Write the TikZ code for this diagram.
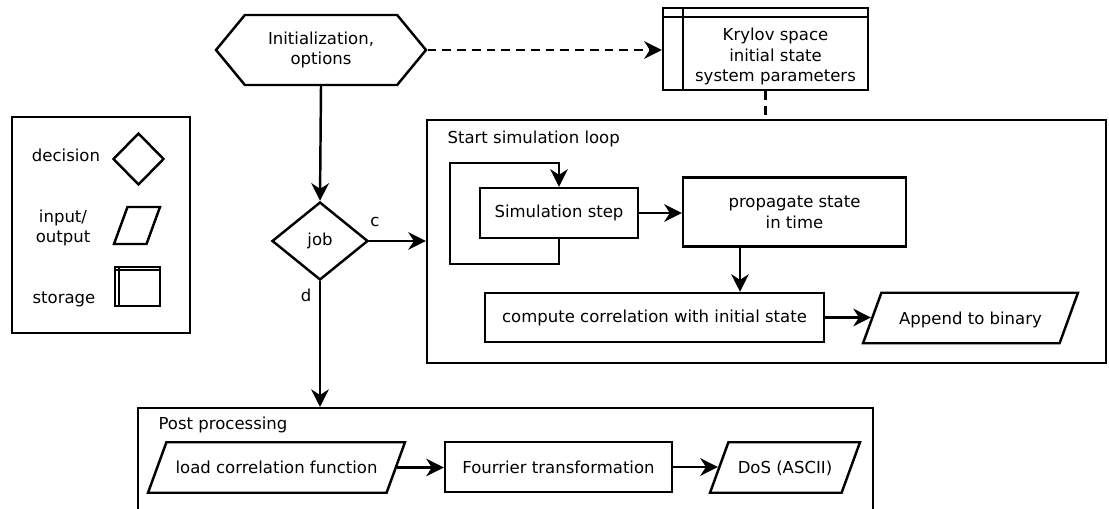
\documentclass[tikz,border=0pt]{standalone}
\usepackage{fontspec}
\setmainfont{DejaVu Sans}
\usetikzlibrary{arrows.meta,shapes.geometric,shapes.symbols}

\begin{document}
\begin{tikzpicture}[
  x=0.02cm, y=-0.02cm,
  line width=1.4pt,
  font=\fontsize{9.4}{11.8}\selectfont,
  procbox/.style={rectangle, draw, align=center, inner sep=0pt},
  groupbox/.style={rectangle, draw, inner sep=0pt},
  startbox/.style={signal, signal to=west and east, signal pointer angle=101, draw, align=center, inner sep=0pt},
  iobox/.style={trapezium, trapezium left angle=70, trapezium right angle=110, trapezium stretches body,
    draw, align=center, inner xsep=0pt, inner ysep=0.347cm, text height=8pt, text depth=1pt},
  decision/.style={diamond, draw, inner sep=0pt},
  storebox/.style 2 args={rectangle, draw, inner sep=0pt,
    path picture={
      \draw ([xshift=#1]path picture bounding box.north west) -- ([xshift=#1]path picture bounding box.south west);
      \draw ([yshift=-#2]path picture bounding box.north west) -- ([yshift=-#2]path picture bounding box.north east);
    }},
  arr/.style={-{Stealth[length=10pt,width=10pt,inset=3.2pt]}},
  dashline/.style={dash pattern=on 5pt off 3.4pt},
  ]
 \useasboundingbox (0,0) rectangle (1109,509);
 \fill[white] (0,0) rectangle (1109,509);
 \clip (0,0) rectangle (1109,509);

 % legend
 \node [groupbox, minimum width=3.56cm, minimum height=4.32cm] (legend) at (101,225) {};
 \node (ldecision) at (66,155) {decision};
 \node [decision, minimum width=1.02cm, minimum height=1.04cm] (ldiamond) at (138.5,159) {};
 \node [align=center] (lio) at (63,228) {input/\\output};
 \node [iobox, inner ysep=0.37cm, text height=0pt, text depth=0pt, minimum width=0.92cm] (lpara) at (137,225.5) {};
 \node (lstorage) at (64,299) {storage};
 \node [storebox={0.08cm}{0.06cm}, minimum width=0.9cm, minimum height=0.78cm] (lstore) at (137.5,286.5) {};

 % setup
 \node [startbox, minimum width=4.2cm, minimum height=1.4cm] (init) at (321,50) {Initialization,\\options};
 \node [storebox={0.4cm}{0.18cm}, minimum width=4.1cm, minimum height=1.64cm] (krylov) at (765.5,49) {%
    \hspace{0.4cm}\raisebox{-0.24cm}[0pt][0pt]{%
    \begin{tabular}{@{}c@{}}
    Krylov space \\
    initial state \\
    system parameters
    \end{tabular}}};
 \node [decision, minimum width=1.92cm, minimum height=1.56cm] (job) at (320,241) {job};
 \node (clabel) at (375,222) {c};
 \node (dlabel) at (306,295) {d};

 % simulation loop
 \node [groupbox, minimum width=13.58cm, minimum height=4.86cm] (loop) at (766.5,241.5) {};
 \node [anchor=west] (looptitle) at (440.5,139) {Start simulation loop};
 \node [procbox, minimum width=3.16cm, minimum height=1cm] (sim) at (559,213) {Simulation step};
 \node [procbox, minimum width=4.46cm, minimum height=1.38cm] (prop) at (794.5,212) {propagate state\\in time};
 \node [procbox, minimum width=6.78cm, minimum height=0.98cm] (corr) at (654.5,317.5) {compute correlation with initial state};
 \node [iobox, minimum width=4.3cm] (append) at (970.5,318) {Append to binary};

 % post processing
 \node [groupbox, minimum width=14.7cm, minimum height=2.6cm, anchor=north west] (post) at (137,407) {};
 \node [anchor=west] (posttitle) at (151.5,425) {Post processing};
 \node [iobox, minimum width=5.14cm] (load) at (276.5,467.5) {load correlation function};
 \node [procbox, minimum width=4.54cm, minimum height=1cm] (fourier) at (558.5,467) {Fourrier transformation};
 \node [iobox, minimum width=3cm] (dos) at (785,467.5) {DoS (ASCII)};

 \draw [arr] (init.south) -- (job.north);
 \draw [arr, dashline] (init.east) -- (init.east -| krylov.west);
 \draw [dashline] (krylov.south) -- (krylov.south |- loop.north);
 \draw [arr] (job.east) -- (job.east -| loop.west);
 \draw [arr] (job.south) -- (job.south |- post.north);

 \draw [arr] (sim.south) -- ++(0,25) -- ++(-109,0) -- ++(0,-101) -| (sim.north);
 \draw [arr] (sim.east) -- (sim.east -| prop.west);
 \draw [arr] ([xshift=-1.09cm]prop.south) -- ([xshift=-1.09cm]prop.south |- corr.north);
 \draw [arr] (corr.east) -- (corr.east -| append.left side);

 \draw [arr] (load.right side) -- (load.right side -| fourier.west);
 \draw [arr] (fourier.east) -- (fourier.east -| dos.left side);
\end{tikzpicture}
\end{document}
